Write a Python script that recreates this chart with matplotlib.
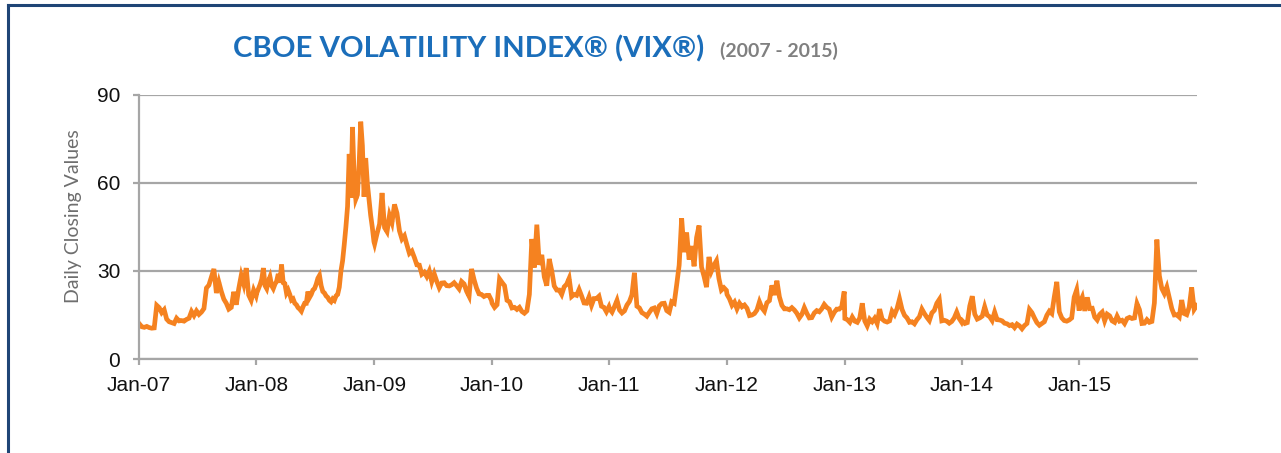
import matplotlib
matplotlib.use("Agg")
import matplotlib.pyplot as plt
import matplotlib.dates as mdates
from matplotlib.lines import Line2D
import numpy as np
import pandas as pd

# VIX closes, roughly four per month (six per month in 2008)
vix_2007 = [12.0, 11.0, 10.8, 11.1, 10.7, 10.5, 10.6, 18.3, 17.5, 15.8, 16.8, 13.6,
            12.7, 12.4, 12.1, 13.9, 13.0, 13.1, 12.9, 13.5, 13.9, 16.2, 14.8, 16.4,
            15.2, 16.0, 17.2, 24.2, 25.2, 28.0, 30.7, 22.5, 26.2, 23.0, 20.4, 19.0,
            17.0, 17.6, 22.9, 18.5, 24.0, 28.5, 25.5, 31.0, 21.8, 20.0, 23.5, 21.5]
vix_2008 = [22.5, 23.9, 25.4, 27.2, 31.0, 25.0, 24.0, 26.5, 28.0, 25.0, 24.0, 25.5,
            26.5, 29.0, 26.0, 32.2, 26.0, 25.7, 22.5, 23.5, 22.0, 20.1, 20.5, 19.0,
            18.5, 17.5, 17.0, 16.3, 17.8, 19.0, 19.0, 23.0, 21.0, 22.0, 23.5, 24.0,
            25.5, 27.5, 28.5, 25.0, 23.0, 22.5, 21.5, 21.0, 20.0, 19.5, 20.5, 20.0,
            21.5, 22.0, 24.5, 30.0, 33.5, 39.0, 45.0, 52.0, 69.9, 55.0, 79.1, 62.0,
            54.5, 56.0, 66.3, 80.9, 72.7, 55.3, 68.5, 59.9, 54.3, 49.0, 44.9, 40.0]
vix_2009 = [39.2, 42.8, 46.0, 56.6, 44.8, 43.4, 49.0, 46.5, 52.7, 49.7, 43.7, 40.9,
            42.0, 38.9, 36.0, 36.8, 34.6, 32.1, 32.0, 28.9, 29.6, 28.1, 30.0, 26.4,
            29.0, 26.5, 24.3, 25.9, 26.0, 25.0, 24.9, 25.3, 26.0, 25.0, 23.9, 26.4,
            25.6, 23.1, 21.4, 30.7, 27.1, 24.2, 22.2, 22.0, 21.3, 21.7, 21.7, 20.0]
vix_2010 = [19.0, 17.6, 18.5, 27.3, 26.1, 25.0, 20.0, 19.5, 17.4, 17.6, 16.9, 17.6,
            16.2, 15.6, 16.4, 22.0, 40.9, 31.2, 45.8, 32.1, 35.5, 28.0, 25.0, 34.1,
            30.1, 24.9, 23.5, 23.5, 22.0, 24.6, 25.5, 27.5, 21.3, 22.0, 21.7, 23.7,
            21.5, 19.1, 19.0, 21.2, 18.3, 20.6, 20.6, 21.4, 18.0, 17.6, 16.1, 17.8]
vix_2011 = [17.1, 16.0, 17.9, 20.0, 16.7, 15.7, 16.4, 18.4, 19.6, 21.9, 29.4, 18.0,
            17.4, 15.8, 15.3, 14.6, 15.9, 17.1, 17.4, 15.5, 18.1, 18.9, 19.0, 16.5,
            15.9, 19.5, 19.0, 25.3, 32.0, 48.0, 36.4, 43.1, 33.9, 38.5, 31.6, 41.4,
            45.5, 31.3, 28.2, 24.5, 34.8, 30.0, 32.0, 33.5, 27.4, 23.5, 24.3, 23.4]
vix_2012 = [22.0, 20.5, 18.3, 19.4, 17.1, 19.0, 17.8, 18.4, 17.3, 14.8, 15.0, 15.5,
            16.7, 19.5, 17.4, 16.3, 19.2, 19.9, 25.1, 21.8, 26.7, 21.2, 18.3, 17.1,
            17.1, 16.8, 17.5, 16.7, 15.6, 14.0, 15.2, 17.5, 15.6, 14.0, 14.1, 15.7,
            16.5, 16.1, 17.1, 18.6, 17.6, 17.0, 14.3, 15.9, 17.0, 17.0, 17.8, 23.0]
vix_2013 = [13.8, 13.4, 12.5, 14.3, 12.9, 12.5, 14.0, 19.0, 13.0, 11.3, 13.6, 12.7,
            13.9, 12.1, 17.0, 13.6, 12.9, 12.6, 13.0, 16.3, 15.1, 17.2, 20.5, 16.9,
            14.9, 14.0, 12.5, 12.7, 12.0, 13.4, 14.4, 17.0, 15.5, 14.2, 13.1, 15.7,
            16.6, 19.0, 20.3, 13.0, 13.2, 12.9, 12.2, 12.8, 14.0, 16.0, 13.8, 12.5]
vix_2014 = [13.0, 12.1, 12.4, 18.1, 21.4, 15.3, 13.6, 14.0, 14.6, 17.8, 15.0, 14.4,
            13.1, 16.0, 13.4, 13.3, 13.0, 12.2, 12.0, 11.4, 11.7, 10.7, 11.9, 11.3,
            10.3, 11.4, 12.1, 16.9, 15.8, 14.0, 12.4, 11.5, 12.1, 12.7, 14.9, 16.3,
            15.5, 21.2, 26.3, 16.1, 14.0, 13.1, 12.9, 13.3, 14.0, 21.1, 23.6, 16.5]
vix_2015 = [19.2, 21.1, 16.4, 21.0, 17.2, 17.3, 14.3, 13.3, 15.2, 16.0, 13.0, 15.3,
            14.7, 13.0, 12.5, 14.6, 12.9, 13.2, 12.1, 13.8, 14.2, 13.8, 14.0, 18.9,
            16.8, 12.1, 12.2, 13.4, 12.5, 12.8, 19.1, 40.7, 28.4, 24.0, 22.3, 24.5,
            20.9, 17.2, 15.0, 15.1, 14.3, 20.1, 15.5, 15.1, 17.7, 24.4, 16.9, 18.2]

years = list(range(2007, 2016))
series = [vix_2007, vix_2008, vix_2009, vix_2010, vix_2011,
          vix_2012, vix_2013, vix_2014, vix_2015]

title = "CBOE VOLATILITY INDEX\u00ae (VIX\u00ae)"
subtitle = "(2007 - 2015)"
ylabel = "Daily Closing Values"
yticks = [0, 30, 60, 90]

dates = []
values = []
for yr, vals in zip(years, series):
    dates.extend(pd.date_range(f"{yr}-01-02", f"{yr}-12-31", periods=len(vals)))
    values.extend(vals)

fig = plt.figure(figsize=(12.81, 4.53), dpi=100)
ax = fig.add_axes([0.1085, 0.2075, 0.8259, 0.5828])

ax.plot(dates, values, color="#F58220", lw=3.4, solid_joinstyle="miter")

ax.set_ylim(0, 90)
ax.set_yticks(yticks)
ax.set_xlim(pd.Timestamp("2007-01-01"), pd.Timestamp("2016-01-01"))
ax.set_xticks([pd.Timestamp(f"{y}-01-01") for y in years])
ax.xaxis.set_major_formatter(mdates.DateFormatter("%b-%y"))

ax.grid(axis="y", color="#A6A6A6", lw=1.6)
ax.set_axisbelow(True)
for s in ["top", "right"]:
    ax.spines[s].set_visible(False)
for s in ["left", "bottom"]:
    ax.spines[s].set_color("#A6A6A6")
    ax.spines[s].set_linewidth(1.6)
ax.tick_params(axis="both", colors="#A6A6A6", width=1.6, length=4.5,
               labelcolor="#111111", labelsize=15)
ax.tick_params(axis="y", pad=9)
ax.tick_params(axis="x", pad=8)
for lbl in ax.get_xticklabels() + ax.get_yticklabels():
    lbl.set_family("Liberation Sans")

fig.text(73 / 1281, 1 - 216 / 453, ylabel, rotation=90, ha="center", va="center",
         fontsize=14, color="#6E6E6E", family="Lato")

fig.text(233 / 1281, 1 - 57 / 453, title, ha="left", va="baseline",
         fontsize=21.2, fontweight="bold", color="#1B6EBA", family="Lato")
fig.text(720 / 1281, 1 - 57 / 453, subtitle, ha="left", va="baseline",
         fontsize=14, fontweight="bold", color="#808080", family="Lato")

# navy frame, top and left edges
navy = "#1F4576"
fig.add_artist(Line2D([8 / 1281, 1], [1 - 5 / 453, 1 - 5 / 453], color=navy, lw=2.2,
                      transform=fig.transFigure))
fig.add_artist(Line2D([8 / 1281, 8 / 1281], [0, 1 - 5 / 453], color=navy, lw=2.2,
                      transform=fig.transFigure))

fig.savefig("out.png", dpi=100)
